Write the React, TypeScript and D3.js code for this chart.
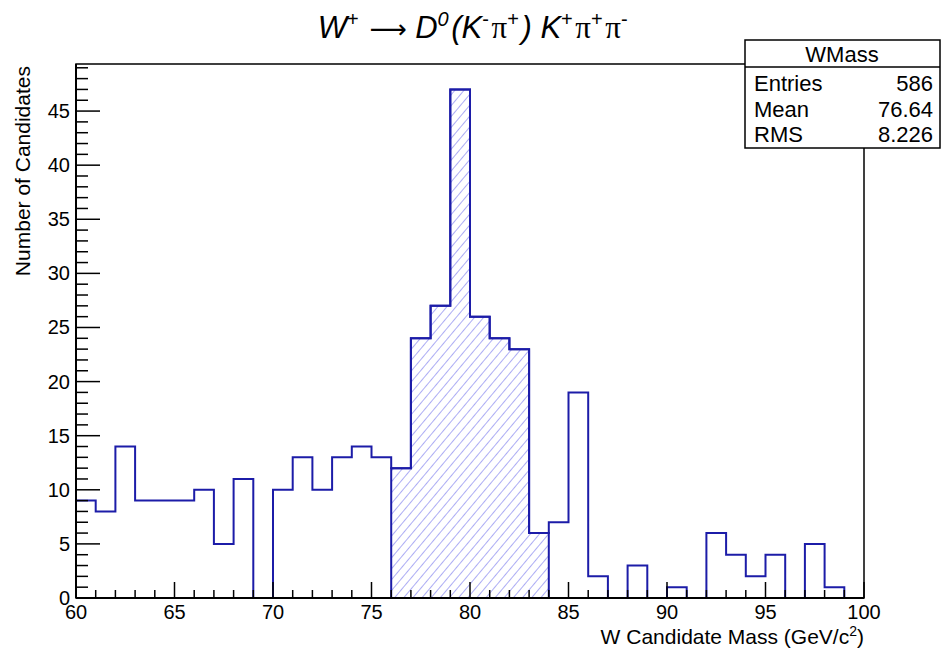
import React from "react";
import * as d3 from "d3";

const binLow: number[] = d3.range(60, 100, 1);
const counts: number[] = [
  9, 8, 14, 9, 9, 9, 10, 5, 11, 0,
  10, 13, 10, 13, 14, 13, 12, 24, 27, 47,
  26, 24, 23, 6, 7, 19, 2, 0, 3, 0,
  1, 0, 6, 4, 2, 4, 0, 5, 1, 0,
];
const signalRange: [number, number] = [76, 84];
const xTicks: number[] = [60, 65, 70, 75, 80, 85, 90, 95, 100];
const yTicks: number[] = [0, 5, 10, 15, 20, 25, 30, 35, 40, 45];
const statsRows: [string, string][] = [
  ["Entries", "586"],
  ["Mean", "76.64"],
  ["RMS", "8.226"],
];

const W = 942, H = 654;
const L = 76, R = 864, T = 64, B = 598;
const LINE = "#1c1ca8";
const HATCH = "#8a8af0";
const FONT = "'Liberation Sans', Arial, Helvetica, sans-serif";

export default function App() {
  const x = d3.scaleLinear().domain([60, 100]).range([L, R]);
  const yMax = d3.max(counts)! * 1.05;
  const y = d3.scaleLinear().domain([0, yMax]).range([B, T]);

  const stepPts = (lo: number, hi: number): [number, number][] => {
    const pts: [number, number][] = [[x(binLow[lo]), y(0)]];
    for (let i = lo; i < hi; i++) {
      pts.push([x(binLow[i]), y(counts[i])]);
      pts.push([x(binLow[i] + 1), y(counts[i])]);
    }
    pts.push([x(binLow[hi - 1] + 1), y(0)]);
    return pts;
  };
  const line = d3.line();
  const full = line(stepPts(0, counts.length))!;
  const sLo = binLow.indexOf(signalRange[0]);
  const sHi = binLow.indexOf(signalRange[1]);
  const sig = line(stepPts(sLo, sHi))!;

  const xMinor = d3.range(60, 101, 1);
  const yMinor = d3.range(0, Math.floor(yMax) + 1, 1);

  const sup = (s: string, italic = false) => (
    <>
      <tspan dy={-12} fontSize={20} fontStyle={italic ? "italic" : "normal"}>{s}</tspan>
      <tspan dy={12}>{"\u200A"}</tspan>
    </>
  );
  const pi = (p: string) => (
    <>
      <tspan fontStyle="normal" fontFamily="'Liberation Serif', 'DejaVu Serif', serif">π</tspan>
      {sup(p)}
    </>
  );

  return (
    <svg width={W} height={H} style={{ position: "absolute", left: 0, top: 0, background: "#fff" }}>
      <defs>
        <pattern id="hatch" patternUnits="userSpaceOnUse" width={7} height={7}
          patternTransform="rotate(40)">
          <line x1={0} y1={0} x2={0} y2={7} stroke={HATCH} strokeWidth={1.4} />
        </pattern>
      </defs>
      <rect x={0} y={0} width={W} height={H} fill="#fff" />

      {/* title */}
      <text x={474} y={38} textAnchor="middle" fontFamily={FONT} fontSize={31} fontStyle="italic">
        <tspan>W</tspan>{sup("+")}
        <tspan fontStyle="normal" fontFamily="'DejaVu Sans', sans-serif" fontSize={26}> ⟶ </tspan>
        <tspan>D</tspan>{sup("0", true)}
        <tspan>(K</tspan>{sup("-")}
        {pi("+")}
        <tspan>) K</tspan>{sup("+")}
        {pi("+")}
        {pi("-")}
      </text>

      {/* signal hatch */}
      <path d={sig} fill="url(#hatch)" stroke="none" />
      {/* full histogram */}
      <path d={full} fill="none" stroke={LINE} strokeWidth={2} />
      <path d={sig} fill="none" stroke={LINE} strokeWidth={2} />

      {/* frame */}
      <rect x={L} y={T} width={R - L} height={B - T} fill="none" stroke="#000" strokeWidth={1.5} />

      {/* x ticks */}
      {xMinor.map((v) => {
        const major = v % 5 === 0;
        return (
          <line key={"xt" + v} x1={x(v)} x2={x(v)} y1={B} y2={B - (major ? 16 : 8)}
            stroke="#000" strokeWidth={1.5} />
        );
      })}
      {xTicks.map((v) => (
        <text key={"xl" + v} x={x(v)} y={B + 21} textAnchor="middle" fontFamily={FONT} fontSize={20}>
          {v}
        </text>
      ))}

      {/* y ticks */}
      {yMinor.map((v) => {
        const major = v % 5 === 0;
        return (
          <line key={"yt" + v} x1={L} x2={L + (major ? 24 : 12)} y1={y(v)} y2={y(v)}
            stroke="#000" strokeWidth={1.5} />
        );
      })}
      {yTicks.map((v) => (
        <text key={"yl" + v} x={L - 6} y={y(v) + 7} textAnchor="end" fontFamily={FONT} fontSize={20}>
          {v}
        </text>
      ))}
      {/* axes */}
      <line x1={L} x2={R} y1={B} y2={B} stroke="#000" strokeWidth={2} />
      <line x1={L} x2={L} y1={T} y2={B} stroke="#000" strokeWidth={2} />

      {/* axis titles */}
      <text x={R} y={644} textAnchor="end" fontFamily={FONT} fontSize={21}>
        W Candidate Mass (GeV/c<tspan dy={-8} fontSize={14}>2</tspan><tspan dy={8}>)</tspan>
      </text>
      <text transform={`translate(30,${T + 2}) rotate(-90)`} textAnchor="end" fontFamily={FONT} fontSize={21}>
        Number of Candidates
      </text>

      {/* stats box */}
      <g fontFamily={FONT} fontSize={22}>
        <rect x={745} y={40} width={195} height={108} fill="#fff" stroke="#000" strokeWidth={1.5} />
        <line x1={745} x2={940} y1={67} y2={67} stroke="#000" strokeWidth={1.5} />
        <text x={842} y={62} textAnchor="middle">WMass</text>
        {statsRows.map((r, i) => (
          <g key={r[0]}>
            <text x={754} y={91 + i * 25.5}>{r[0]}</text>
            <text x={933} y={91 + i * 25.5} textAnchor="end">{r[1]}</text>
          </g>
        ))}
      </g>
    </svg>
  );
}
